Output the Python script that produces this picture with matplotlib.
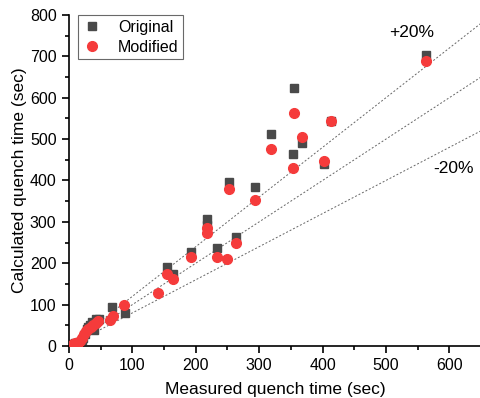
import numpy as np
import matplotlib.pyplot as plt
from matplotlib.ticker import MultipleLocator

plt.rcParams['font.family'] = ['Liberation Sans', 'DejaVu Sans']

# measured vs calculated quench time (sec)
orig_x = [7, 10, 15, 20, 22, 25, 28, 30, 33, 36, 40, 43, 47, 68, 89,
          154, 164, 192, 218, 218, 233, 263, 253, 293, 318, 353, 355, 367, 402, 413, 563]
orig_y = [5, 8, 10, 15, 20, 30, 40, 45, 50, 58, 38, 65, 65, 95, 80,
          191, 174, 226, 308, 292, 237, 264, 396, 384, 512, 465, 624, 490, 441, 544, 703]

mod_x = [7, 10, 14, 18, 21, 24, 27, 30, 34, 38, 42, 46, 65, 70, 86,
         141, 154, 164, 192, 218, 218, 233, 250, 263, 253, 293, 318, 353, 355, 367, 402, 413, 563]
mod_y = [5, 6, 8, 12, 20, 30, 35, 40, 45, 50, 55, 60, 62, 73, 98,
         128, 175, 163, 214, 284, 274, 216, 210, 248, 380, 353, 477, 431, 563, 505, 448, 544, 688]

fig = plt.figure(figsize=(4.81, 3.98), dpi=100)
ax = fig.add_axes([0.1435, 0.1307, 0.8565, 0.8317])

xl = np.array([0, 650])
for k in [1.2, 1.0, 0.8]:
    ax.plot(xl, k * xl, ls=(0, (2, 2)), color='#666666', lw=0.7, zorder=1)

ax.plot(orig_x, orig_y, 's', color='#4a4a4a', ms=6, label='Original', zorder=2)
ax.plot(mod_x, mod_y, 'o', color='#f53b3b', ms=7, label='Modified', zorder=3)

ax.text(541, 758, '+20%', fontsize=12.5, ha='center', va='center')
ax.text(607, 430, '-20%', fontsize=12.5, ha='center', va='center')

ax.set_xlim(0, 650)
ax.set_ylim(0, 800)
ax.xaxis.set_major_locator(MultipleLocator(100))
ax.xaxis.set_minor_locator(MultipleLocator(50))
ax.yaxis.set_major_locator(MultipleLocator(100))
ax.yaxis.set_minor_locator(MultipleLocator(50))
ax.tick_params(which='major', direction='out', length=5, width=1.2, labelsize=11.5, pad=4)
ax.tick_params(which='minor', direction='out', length=3, width=1.2)
for s in ['top', 'right']:
    ax.spines[s].set_visible(False)
for s in ['left', 'bottom']:
    ax.spines[s].set_linewidth(1.2)

ax.set_xlabel('Measured quench time (sec)', fontsize=12.5, labelpad=6)
ax.set_ylabel('Calculated quench time (sec)', fontsize=12.5, labelpad=2)

leg = ax.legend(loc='upper left', fontsize=11.5, fancybox=False, edgecolor='#444444',
                handlelength=1.2, handletextpad=1.0, borderpad=0.3, labelspacing=0.3,
                borderaxespad=0, bbox_to_anchor=(0.022, 1.0))
leg.get_frame().set_linewidth(0.8)

fig.savefig('out.png', dpi=100)
